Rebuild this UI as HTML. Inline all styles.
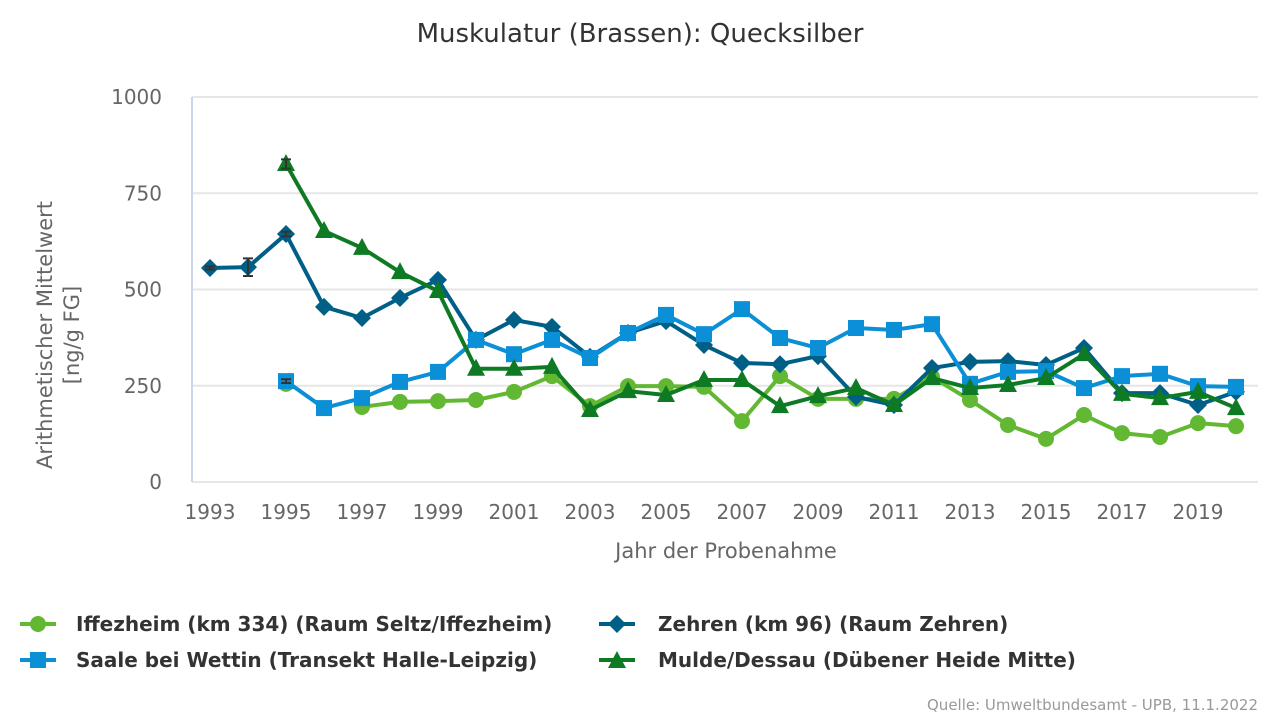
<!DOCTYPE html>
<html><head><meta charset="utf-8"><style>
body{margin:0;background:#fff;font-family:"Liberation Sans","DejaVu Sans",sans-serif}
svg{display:block}
</style></head><body>
<svg width="1280" height="720" id="chart" font-family="'DejaVu Sans','Liberation Sans',sans-serif">
<text x="640" y="42" text-anchor="middle" font-size="26" fill="#333">Muskulatur (Brassen): Quecksilber</text>
<g id="grid"></g>
<line x1="192" y1="97" x2="192" y2="482" stroke="#ccd6eb" stroke-width="2"/>
<g id="yt"></g>
<g id="xt"></g>
<text transform="translate(52,335) rotate(-90)" text-anchor="middle" font-size="21" fill="#666"><tspan x="0" dy="0">Arithmetischer Mittelwert</tspan><tspan x="0" dy="27">[ng/g FG]</tspan></text>
<text x="726" y="558" text-anchor="middle" font-size="21" fill="#666">Jahr der Probenahme</text>
<g id="series"></g>
<g id="legend" font-size="20" font-weight="bold" fill="#333">
<g><line x1="20" y1="624" x2="56" y2="624" stroke="#62b833" stroke-width="4"/><circle cx="38" cy="624" r="8" fill="#62b833"/><text x="76" y="631">Iffezheim (km 334) (Raum Seltz/Iffezheim)</text></g>
<g><line x1="599" y1="624" x2="635" y2="624" stroke="#005f87" stroke-width="4"/><path d="M617 615 L626 624 L617 633 L608 624Z" fill="#005f87"/><text x="658" y="631">Zehren (km 96) (Raum Zehren)</text></g>
<g><line x1="20" y1="660" x2="56" y2="660" stroke="#0b8fd6" stroke-width="4"/><rect x="30" y="652" width="16" height="16" fill="#0b8fd6"/><text x="76" y="667">Saale bei Wettin (Transekt Halle-Leipzig)</text></g>
<g><line x1="599" y1="660" x2="635" y2="660" stroke="#0e7a24" stroke-width="4"/><path d="M617 651 L626 668 L608 668Z" fill="#0e7a24"/><text x="658" y="667">Mulde/Dessau (Dübener Heide Mitte)</text></g>
</g>
<text x="1258" y="710" text-anchor="end" font-size="15" fill="#999">Quelle: Umweltbundesamt - UPB, 11.1.2022</text>
</svg>
<script>
const years=[1993,1994,1995,1996,1997,1998,1999,2000,2001,2002,2003,2004,2005,2006,2007,2008,2009,2010,2011,2012,2013,2014,2015,2016,2017,2018,2019,2020];
const yTicks=[0,250,500,750,1000];
const xTickLabels=[1993,1995,1997,1999,2001,2003,2005,2007,2009,2011,2013,2015,2017,2019];
const iffezheim=[null,null,255,null,195,208,210,213,234,275,197,249,249,247,158,275,216,216,216,273,213,148,112,174,127,117,153,145];
const zehren=[556,558,644,455,426,478,525,369,421,403,325,387,418,356,309,306,327,221,200,296,312,314,304,348,231,231,200,234];
const saale=[null,null,262,192,218,260,286,369,332,369,322,387,434,384,449,374,348,400,395,410,255,286,288,244,275,281,249,247];
const mulde=[null,null,826,652,608,545,496,294,294,299,187,236,226,265,265,197,223,244,200,270,244,252,270,332,229,218,234,192];
const errZehren=[[1993,4],[1994,23],[1995,6]];
const errMulde=[[1995,12]];
const errSaale=[[1995,5]];
const NS='http://www.w3.org/2000/svg';
const X=y=>210+(y-1993)*38;
const Y=v=>482-v*0.385;
function mk(t,a,p){const e=document.createElementNS(NS,t);for(const k in a)e.setAttribute(k,a[k]);p.appendChild(e);return e;}
const grid=document.getElementById('grid'),yt=document.getElementById('yt'),xt=document.getElementById('xt'),ser=document.getElementById('series');
yTicks.forEach(v=>{
 const l=mk('line',{x1:192,x2:1258,y1:Y(v),y2:Y(v),stroke:'#e6e6e6','stroke-width':2},grid);
 
 
 const t=mk('text',{x:162,y:Y(v)+7,'text-anchor':'end','font-size':20,fill:'#666'},yt);
 t.textContent=v;
 
 
});
xTickLabels.forEach(y=>{
 const t=mk('text',{x:X(y),y:519,'text-anchor':'middle','font-size':20,fill:'#666'},xt);
 t.textContent=y;
 
 
});
function series(vals,color,shape,name){
 const g=mk('g',{},ser);
 
 
 let d='',pen=false;
 vals.forEach((v,i)=>{if(v==null){pen=false;return;}d+=(pen?'L':'M')+X(years[i])+' '+Y(v)+' ';pen=true;});
 mk('path',{d:d,fill:'none',stroke:color,'stroke-width':4,'stroke-linejoin':'round'},g);
 vals.forEach((v,i)=>{if(v==null)return;const x=X(years[i]),y=Y(v);let m;
  if(shape==='circle')m=mk('circle',{cx:x,cy:y,r:8,fill:color},g);
  else if(shape==='square')m=mk('rect',{x:x-8,y:y-8,width:16,height:16,fill:color},g);
  else if(shape==='diamond')m=mk('path',{d:`M${x} ${y-9}L${x+9} ${y}L${x} ${y+9}L${x-9} ${y}Z`,fill:color},g);
  else m=mk('path',{d:`M${x} ${y-10}L${x+9} ${y+7}L${x-9} ${y+7}Z`,fill:color},g);
  
  
 });
}
function errs(arr){arr.forEach(([yr,e])=>{
 const idx=years.indexOf(yr);let v=zehren[idx];
 if(arr===errMulde)v=mulde[idx];if(arr===errSaale)v=saale[idx];
 const x=X(yr),y1=Y(v+e),y2=Y(v-e);
 const g=mk('path',{d:`M${x} ${y1}L${x} ${y2}M${x-5} ${y1}L${x+5} ${y1}M${x-5} ${y2}L${x+5} ${y2}`,stroke:'#333','stroke-width':2,fill:'none'},ser);
 
 
});}
series(iffezheim,'#62b833','circle','series-iffezheim');
series(zehren,'#005f87','diamond','series-zehren');
series(saale,'#0b8fd6','square','series-saale');
series(mulde,'#0e7a24','triangle','series-mulde');
errs(errZehren);errs(errMulde);errs(errSaale);
</script>
</body></html>
